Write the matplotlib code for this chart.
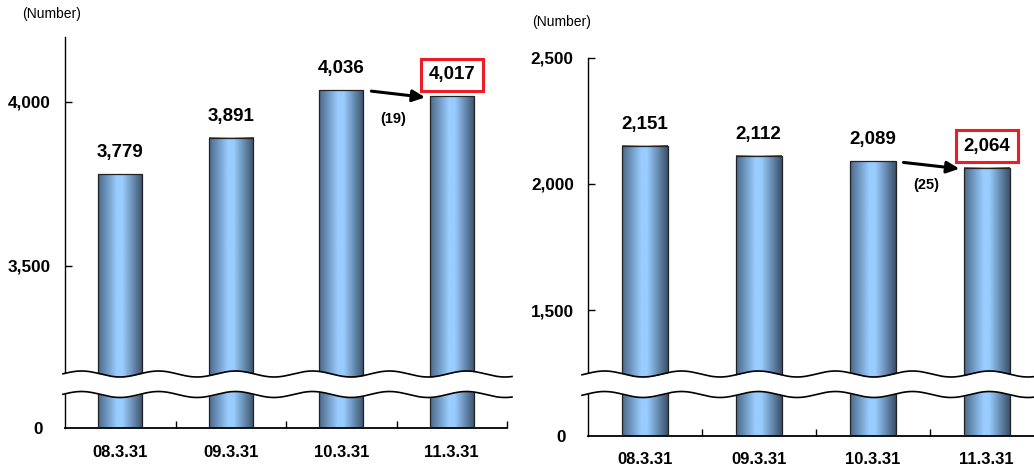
import numpy as np
import matplotlib
matplotlib.use("Agg")
import matplotlib.pyplot as plt
from matplotlib.colors import LinearSegmentedColormap
from matplotlib.patches import Rectangle
from matplotlib import transforms
from matplotlib.transforms import offset_copy

plt.rcParams['font.family'] = ['Liberation Sans', 'DejaVu Sans']

# ---- data ----
categories = ["08.3.31", "09.3.31", "10.3.31", "11.3.31"]
left_values = [3779, 3891, 4036, 4017]
right_values = [2151, 2112, 2089, 2064]
left_ticks = [3500, 4000]
right_ticks = [1500, 2000, 2500]
unit_label = "(Number)"

W, H = 1034, 470
fig = plt.figure(figsize=(W / 100, H / 100), dpi=100)


def fx(px):
    return px / W


def fy(px):
    return 1 - px / H


cyl = LinearSegmentedColormap.from_list(
    "cyl", [(0.0, "#4a6889"), (0.42, "#99ccff"), (0.55, "#99ccff"), (1.0, "#3a5069")])
grad = np.linspace(0, 1, 256)[None, :]

BREAK_PX = 383


def draw_panel(left_px, cat_px, top_px, base_px, values, yticks, ylim, label_xy,
               change_dy):
    n = len(values)
    width_px = cat_px * n
    ax_top = fig.add_axes([fx(left_px), fy(BREAK_PX), width_px / W,
                           (BREAK_PX - top_px) / H])
    ax_bot = fig.add_axes([fx(left_px), fy(base_px), width_px / W,
                           (base_px - BREAK_PX) / H])
    x = np.arange(n)
    for ax in (ax_top, ax_bot):
        bars = ax.bar(x, values, width=0.4, facecolor='none',
                      edgecolor='#222222', linewidth=0.9, zorder=3)
        for b in bars:
            ax.imshow(grad, cmap=cyl,
                      extent=[b.get_x(), b.get_x() + b.get_width(), 0, b.get_height()],
                      aspect='auto', zorder=2, interpolation='bilinear')
        for s in ('top', 'right'):
            ax.spines[s].set_visible(False)
        ax.spines['left'].set_linewidth(1.0)
        ax.patch.set_alpha(0)

    # upper segment
    ax_top.spines['bottom'].set_visible(False)
    ax_top.set_xticks([])
    ax_top.set_yticks(yticks)
    ax_top.set_yticklabels([f"{t:,}" for t in yticks], fontsize=12.3, fontweight='bold')
    ax_top.tick_params(axis='y', direction='in', length=5, width=1, pad=10)
    ax_top.set_xlim(-0.5, n - 0.5)
    ax_top.set_ylim(*ylim)

    # lower segment
    ax_bot.set_yticks([0])
    ax_bot.set_yticklabels(["0"], fontsize=12.3, fontweight='bold')
    ax_bot.tick_params(axis='y', length=0, pad=16)
    ax_bot.spines['bottom'].set_linewidth(1.3)
    ax_bot.set_xticks(x + 0.5)
    ax_bot.set_xticks(x, minor=True)
    ax_bot.set_xticklabels([])
    ax_bot.set_xticklabels(categories, minor=True, fontsize=12, fontweight='bold')
    ax_bot.tick_params(axis='x', which='major', direction='in', length=5, width=1)
    ax_bot.tick_params(axis='x', which='minor', length=0, pad=12)
    ax_bot.set_xlim(-0.5, n - 0.5)
    ax_bot.set_ylim(0, 100)

    # value labels
    for i, v in enumerate(values):
        ax_top.annotate(f"{v:,}", xy=(i, v), xytext=(0, 15.5), textcoords='offset points',
                        ha='center', va='center', fontsize=13.5, fontweight='bold',
                        annotation_clip=False, zorder=6)

    # highlight box on the latest value
    last = n - 1
    box_tr = fig.dpi_scale_trans + transforms.ScaledTranslation(
        last, values[last], ax_top.transData)
    ax_top.add_artist(Rectangle((-0.31, 15.5 / 72 - 0.16), 0.62, 0.32,
                                transform=box_tr, facecolor='none',
                                edgecolor='#ee1c25', linewidth=2.2,
                                clip_on=False, zorder=7))

    # change arrow between the last two bars
    start_tr = offset_copy(ax_top.transData, fig=fig, x=8, y=-1, units='dots')
    end_tr = offset_copy(ax_top.transData, fig=fig, x=-4.5, y=-1, units='dots')
    ax_top.annotate("", xy=(last - 0.2, values[last]), xycoords=end_tr,
                    xytext=(last - 1 + 0.2, values[last - 1]), textcoords=start_tr,
                    arrowprops=dict(arrowstyle='-|>,head_length=0.75,head_width=0.35',
                                    color='black', lw=2.2, shrinkA=0, shrinkB=0,
                                    mutation_scale=10),
                    annotation_clip=False, zorder=6)
    diff = values[last] - values[last - 1]
    change = f"({abs(diff)})" if diff < 0 else f"{diff}"
    ax_top.annotate(change, xy=(last - 0.53, values[last]), xytext=(0, change_dy),
                    textcoords='offset points', ha='center', va='center',
                    fontsize=10.5, fontweight='bold', annotation_clip=False, zorder=6)

    fig.text(fx(label_xy[0]), fy(label_xy[1]), unit_label, fontsize=10,
             ha='center', va='center')
    return ax_top, ax_bot


draw_panel(65, 110.5, 37, 428, left_values, left_ticks, (3143, 4198),
           (52, 14), -16.5)
draw_panel(587.7, 114, 57.7, 435.7, right_values, right_ticks, (1211, 2500),
           (562, 22), -12.5)

# axis break: white band bounded by two wavy lines
ov = fig.add_axes([0, 0, 1, 1], zorder=10)
ov.set_xlim(0, W)
ov.set_ylim(H, 0)
ov.axis('off')
ov.patch.set_alpha(0)
for x0, x1, xdip in [(63, 512, 120), (582, 1034, 643)]:
    xs = np.linspace(x0, x1, 400)
    wave = 3.0 * np.cos(2 * np.pi * (xs - xdip) / 77.0)
    upper = 374 + wave
    lower = 394.5 + wave
    ov.fill_between(xs, upper, lower, color='white', lw=0)
    ov.plot(xs, upper, color='black', lw=1.2)
    ov.plot(xs, lower, color='black', lw=1.2)

fig.savefig("out.png", dpi=100)
